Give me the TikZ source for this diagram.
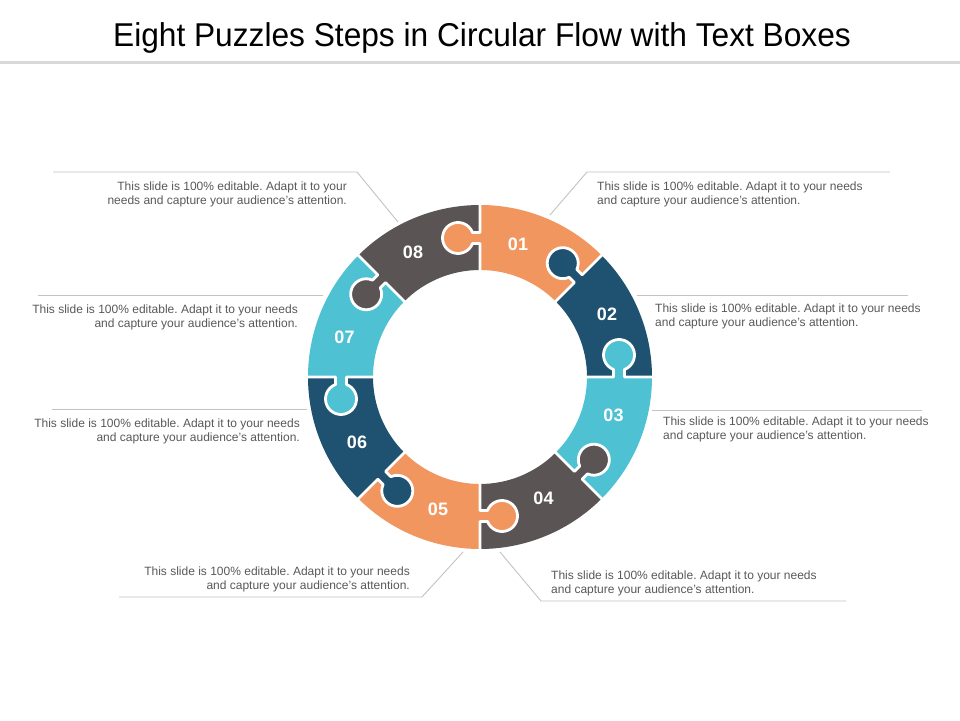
\documentclass[tikz,border=0pt]{standalone}
\usepackage{fontspec}
\setmainfont{Liberation Sans}
\frenchspacing
\definecolor{orangeP}{RGB}{241,150,95}
\definecolor{blueP}{RGB}{31,82,112}
\definecolor{cyanP}{RGB}{78,193,211}
\definecolor{grayP}{RGB}{90,84,85}
\definecolor{textgray}{RGB}{89,89,89}
\definecolor{linegray}{RGB}{195,195,195}
\definecolor{bargray}{RGB}{217,217,217}
\tikzset{
  leader/.style={draw=linegray, line width=0.9pt},
  desc/.style={font=\fontsize{12}{14}\selectfont, text=textgray, inner sep=0pt},
  numlabel/.style={font=\bfseries\fontsize{18}{18}\selectfont, text=white, inner sep=0pt},
  seam/.style={draw=white, line width=2.8pt, line join=round, line cap=butt}
}
\begin{document}
\begin{tikzpicture}[x=1pt,y=1pt]
\useasboundingbox (0,0) rectangle (960,720);
\fill[white] (0,0) rectangle (960,720);
% title and bar
\node[anchor=base, inner sep=0pt, font=\fontsize{33}{36}\selectfont] (title) at (482,673) {\scalebox{0.96}[1]{Eight Puzzles Steps in Circular Flow with Text Boxes}};
\fill[bargray] (0,655.5) rectangle (960,659);
% ring
\def\ri{107}
\def\ro{172}
\def\rmid{139}
\def\dd{22}
\def\aa{15.5}
\def\ww{5.5}
\begin{scope}[shift={(480,343)}]
  \foreach \k/\c in {1/orangeP,2/blueP,3/cyanP,4/grayP,5/orangeP,6/blueP,7/cyanP,8/grayP} {
    \pgfmathsetmacro\angA{90-45*(\k-1)}
    \pgfmathsetmacro\angB{\angA-45}
    \fill[\c] (\angA:\ro) arc[start angle=\angA, end angle=\angB, radius=\ro]
      -- (\angB:\ri) arc[start angle=\angB, end angle=\angA, radius=\ri] -- cycle;
  }
  \pgfmathsetmacro\bet{asin(\ww/\aa)}
  \pgfmathsetmacro\yz{\dd-sqrt(\aa*\aa-\ww*\ww)}
  \pgfmathsetmacro\sa{270-\bet}
  \pgfmathsetmacro\ea{-90+\bet}
  \foreach \k/\c in {1/orangeP,2/blueP,3/cyanP,4/grayP,5/orangeP,6/blueP,7/cyanP,8/grayP} {
    \pgfmathsetmacro\angA{90-45*(\k-1)}
    \begin{scope}[rotate=\angA]
      \fill[\c] (\rmid-\ww,-3) -- (\rmid-\ww,\yz) arc[start angle=\sa, end angle=\ea, radius=\aa] -- (\rmid+\ww,-3) -- cycle;
    \end{scope}
  }
  \foreach \k in {1,...,8} {
    \pgfmathsetmacro\angA{90-45*(\k-1)}
    \begin{scope}[rotate=\angA]
      \draw[seam] (\ri-4,0) -- (\rmid-\ww,0) -- (\rmid-\ww,\yz) arc[start angle=\sa, end angle=\ea, radius=\aa] -- (\rmid+\ww,0) -- (\ro+4,0);
    \end{scope}
  }
\end{scope}
% numbers
\node[numlabel] (n1) at (518,476) {01};
\node[numlabel] (n2) at (607,405.5) {02};
\node[numlabel] (n3) at (613.5,305) {03};
\node[numlabel] (n4) at (543.5,222) {04};
\node[numlabel] (n5) at (438,211) {05};
\node[numlabel] (n6) at (357,278) {06};
\node[numlabel] (n7) at (344.5,383) {07};
\node[numlabel] (n8) at (413,468) {08};
% leader coordinates
\coordinate (l8a) at (53,548);  \coordinate (l8b) at (357,548); \coordinate (l8c) at (398,498);
\coordinate (l1a) at (890,548); \coordinate (l1b) at (587,548); \coordinate (l1c) at (550,505);
\coordinate (l2a) at (908,425); \coordinate (l2b) at (637,425);
\coordinate (l3a) at (922,310); \coordinate (l3b) at (652,310);
\coordinate (l4a) at (846,119); \coordinate (l4b) at (541,119); \coordinate (l4c) at (500,168);
\coordinate (l5a) at (119,123); \coordinate (l5b) at (422,123); \coordinate (l5c) at (463,168);
\coordinate (l6a) at (52,311);  \coordinate (l6b) at (307,311);
\coordinate (l7a) at (38,425);  \coordinate (l7b) at (323,425);
\draw[leader] (l8a) -- (l8b) -- (l8c);
\draw[leader] (l1a) -- (l1b) -- (l1c);
\draw[leader] (l2a) -- (l2b);
\draw[leader] (l3a) -- (l3b);
\draw[leader] (l4a) -- (l4b) -- (l4c);
\draw[leader] (l5a) -- (l5b) -- (l5c);
\draw[leader] (l6a) -- (l6b);
\draw[leader] (l7a) -- (l7b);
% texts
\node[desc, align=right, anchor=east] (t8) at (347,525.5) {This slide is 100\% editable. Adapt it to your\\needs and capture your audience’s attention.};
\node[desc, align=left, anchor=west] (t1) at (597,525.5) {This slide is 100\% editable. Adapt it to your needs\\and capture your audience’s attention.};
\node[desc, align=left, anchor=west] (t2) at (655,403.5) {This slide is 100\% editable. Adapt it to your needs\\and capture your audience’s attention.};
\node[desc, align=left, anchor=west] (t3) at (663,290.5) {This slide is 100\% editable. Adapt it to your needs\\and capture your audience’s attention.};
\node[desc, align=left, anchor=west] (t4) at (551,136.5) {This slide is 100\% editable. Adapt it to your needs\\and capture your audience’s attention.};
\node[desc, align=right, anchor=east] (t5) at (410,141) {This slide is 100\% editable. Adapt it to your needs\\and capture your audience’s attention.};
\node[desc, align=right, anchor=east] (t6) at (300,289) {This slide is 100\% editable. Adapt it to your needs\\and capture your audience’s attention.};
\node[desc, align=right, anchor=east] (t7) at (298,403) {This slide is 100\% editable. Adapt it to your needs\\and capture your audience’s attention.};
\end{tikzpicture}
\end{document}
